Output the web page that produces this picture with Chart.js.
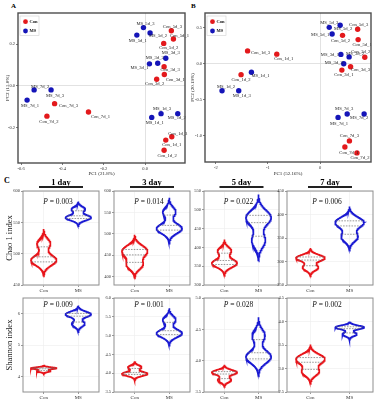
<!DOCTYPE html>
<html>
<head>
<meta charset="utf-8">
<script src="https://cdn.jsdelivr.net/npm/chart.js@4/dist/chart.umd.min.js"></script>
<style>
  html, body { margin: 0; padding: 0; background: #fff; }
  #fig { position: relative; width: 375px; height: 400px; overflow: hidden; }
  #fig canvas { position: absolute; }
  .tag { position: absolute; font: bold 7px "Liberation Serif"; color: #000; }
</style>
</head>
<body>
<div id="fig">
  <div class="tag" style="left:11px;top:2px">A</div>
  <div class="tag" style="left:191px;top:2px">B</div>
  <div class="tag" style="left:4px;top:176px;font-size:8px">C</div>
</div>
<script>
// ---- data ----
const groups = ['Con', 'MS'];
const days = ['1 day', '3 day', '5 day', '7 day'];

// PCA sample names (3 replicates x 4 days)
const conNames = ['Con_1d_1', 'Con_1d_2', 'Con_1d_3', 'Con_3d_1', 'Con_3d_2', 'Con_3d_3',
                  'Con_5d_1', 'Con_5d_2', 'Con_5d_3', 'Con_7d_1', 'Con_7d_2', 'Con_7d_3'];
const msNames  = ['MS_1d_1', 'MS_1d_2', 'MS_1d_3', 'MS_3d_1', 'MS_3d_2', 'MS_3d_3',
                  'MS_5d_1', 'MS_5d_2', 'MS_5d_3', 'MS_7d_1', 'MS_7d_2', 'MS_7d_3'];

// panel A: PC1 (21.8%) / PC2 (15.0%)
const aConX = [0.100, 0.092, 0.129, 0.093, 0.056, 0.092, 0.137, 0.090, 0.127, -0.274, -0.475, -0.438];
const aConY = [-0.260, -0.309, -0.244, 0.055, 0.032, 0.092, 0.225, 0.204, 0.265, -0.125, -0.145, -0.085];
const aMsX  = [0.032, 0.158, 0.077, 0.021, 0.061, 0.100, -0.040, 0.024, -0.008, -0.571, -0.537, -0.455];
const aMsY  = [-0.151, -0.133, -0.133, 0.106, 0.109, 0.133, 0.244, 0.254, 0.280, -0.068, -0.019, -0.019];
const aXTicks = ['-0.6', '-0.4', '-0.2', '0.0'];
const aYTicks = ['-0.2', '0.0', '0.2'];

// panel B: PC1 (52.16%) / PC2 (20.19%)
const bConX = [-0.83, -1.515, -1.39, 0.419, 0.859, 0.586, 0.731, 0.432, 0.722, 0.477, 0.709, 0.564];
const bConY = [0.135, -0.149, 0.18, -0.086, 0.093, -0.039, 0.337, 0.396, 0.48, -1.152, -1.235, -1.068];
const bMsX  = [-1.316, -1.88, -1.56, 0.40, 0.558, 0.455, 0.232, 0.386, 0.177, 0.346, 0.846, 0.521];
const bMsY  = [-0.116, -0.372, -0.372, 0.132, 0.097, 0.003, 0.414, 0.536, 0.507, -0.742, -0.696, -0.696];
const bXTicks = ['-2', '-1', '0'];
const bYTicks = ['-1.0', '-0.5', '0.0', '0.5'];

// alpha diversity, three replicates per group and day
const chaoCon = [[487, 492, 516], [427, 452, 466], [354, 362, 391], [287, 305, 310]];
const chaoMS  = [[556, 559, 571], [510, 514, 551], [418, 472, 486], [352, 378, 388]];
const chaoP = ['0.003', '0.014', '0.022', '0.006'];
const chaoTicks = [['450', '500', '550', '600'], ['400', '450', '500', '550', '600'],
                   ['300', '350', '400', '450', '500', '550'], ['250', '300', '350', '400', '450']];

const shanCon = [[4.165, 4.25, 4.27], [3.966, 4.0, 4.16], [3.69, 3.80, 3.826], [2.93, 3.15, 3.25]];
const shanMS  = [[5.675, 5.96, 6.0], [5.04, 5.08, 5.42], [4.04, 4.08, 4.40], [3.73, 3.87, 3.88]];
const shanP = ['0.009', '0.001', '0.028', '0.002'];
const shanTicks = [['4', '5', '6'], ['3.5', '4.0', '4.5', '5.0', '5.5', '6.0'],
                   ['3.5', '4.0', '4.5', '5.0'], ['2.5', '3.0', '3.5', '4.0', '4.5']];

// ---- style / layout ----
const RED = '#e3191c';
const BLUE = '#1515b8';
const VRED = '#e8141a';
const VBLUE = '#1a1ad2';
const SERIF = '"Liberation Serif", "DejaVu Serif", serif';

const chaoLim = [[450, 600], [380, 600], [300, 550], [250, 450]];
const shanLim = [[3.5, 6.5], [3.5, 6.0], [3.5, 5.0], [2.5, 4.5]];
const colX = [[23, 99], [114, 190], [204, 279], [287, 373]];
const rowY = [[191, 285], [298, 392]];

// label nudges in px (ggrepel-like placement)
const aConNudge = [[6, 5], [3, 5], [6, -3], [11, 5], [-2, 5], [6, 3], [6, -3], [5, 4], [1, -4], [12, 5], [2, 6], [14, 2]];
const aMsNudge  = [[3, 5], [-1, 4], [1, -5], [-10, 4], [-3, -5], [5, -5], [1, 6], [8, 3], [2, -4], [3, 6], [6, -3], [4, 6]];
const bConNudge = [[7, 5], [0, 5], [13, 2], [2, 5], [-4, -5], [10, 3], [4, 5], [-2, 5], [1, -5], [4, 6], [3, 5], [0, -5]];
const bMsNudge  = [[9, 4], [4, -4], [3, 5], [-11, 0], [6, -3], [-10, -1], [-12, 1], [3, 4], [0, -5], [1, 6], [-5, 4], [-3, -5]];

Chart.defaults.font.family = SERIF;
Chart.defaults.color = '#333';

const fig = document.getElementById('fig');
function mount(left, top, w, h) {
  const c = document.createElement('canvas');
  c.width = w; c.height = h;
  c.style.left = left + 'px'; c.style.top = top + 'px';
  c.style.width = w + 'px'; c.style.height = h + 'px';
  fig.appendChild(c);
  return c;
}

function fixedTicks(labels) {
  const vals = labels.map(parseFloat);
  return {
    after: s => { s.ticks = vals.map(v => ({ value: v })); },
    cb: v => labels[vals.indexOf(v)]
  };
}

const frame = (color, width) => ({
  id: 'frame',
  afterDraw(chart) {
    const { ctx, chartArea: a } = chart;
    ctx.save();
    ctx.strokeStyle = color; ctx.lineWidth = width;
    ctx.strokeRect(a.left, a.top, a.right - a.left, a.bottom - a.top);
    ctx.restore();
  }
});

const legendBox = {
  id: 'legendBox',
  afterDraw(chart) {
    const { ctx, chartArea: a } = chart;
    ctx.save();
    ctx.fillStyle = '#fff';
    ctx.strokeStyle = '#d0d0d0'; ctx.lineWidth = 0.6;
    ctx.fillRect(a.left + 2, a.top + 3, 19, 19.5);
    ctx.strokeRect(a.left + 2, a.top + 3, 19, 19.5);
    [[groups[0], RED, 8.7], [groups[1], BLUE, 18]].forEach(([t, c, dy]) => {
      ctx.fillStyle = c;
      ctx.beginPath(); ctx.arc(a.left + 7.5, a.top + dy, 2.4, 0, Math.PI * 2); ctx.fill();
      ctx.fillStyle = '#111';
      ctx.font = 'bold 4.5px ' + SERIF;
      ctx.textBaseline = 'middle';
      ctx.fillText(t, a.left + 11.5, a.top + dy);
    });
    ctx.restore();
  }
};

const pointNames = {
  id: 'pointNames',
  afterDatasetsDraw(chart) {
    const { ctx } = chart;
    ctx.save();
    ctx.font = '4.6px ' + SERIF;
    ctx.fillStyle = '#222';
    ctx.textAlign = 'center';
    ctx.textBaseline = 'middle';
    chart.data.datasets.forEach((ds, i) => {
      chart.getDatasetMeta(i).data.forEach((pt, j) => {
        const [dx, dy] = ds.nudge[j];
        ctx.fillText(ds.names[j], pt.x + dx, pt.y + dy);
      });
    });
    ctx.restore();
  }
};

function pcaChart(canvas, o) {
  const xt = fixedTicks(o.xTicks), yt = fixedTicks(o.yTicks);
  const zeroGrid = c => (c.tick && c.tick.value === 0) ? '#d6d6d6' : 'rgba(0,0,0,0)';
  new Chart(canvas, {
    type: 'scatter',
    data: {
      datasets: [
        { data: o.conX.map((x, i) => ({ x, y: o.conY[i] })), names: conNames, nudge: o.conNudge,
          backgroundColor: RED, borderWidth: 0, pointRadius: 2.7 },
        { data: o.msX.map((x, i) => ({ x, y: o.msY[i] })), names: msNames, nudge: o.msNudge,
          backgroundColor: BLUE, borderWidth: 0, pointRadius: 2.7 }
      ]
    },
    options: {
      responsive: false, animation: false, events: [],
      layout: { padding: { top: o.padTop, right: o.padRight, left: 0, bottom: 0 } },
      plugins: { legend: { display: false }, tooltip: { enabled: false } },
      scales: {
        x: {
          type: 'linear', min: o.xLim[0], max: o.xLim[1],
          afterBuildTicks: xt.after,
          afterFit: s => { s.height = o.axisH; },
          ticks: { callback: xt.cb, font: { size: 4.5 }, color: '#333', padding: 1, maxRotation: 0, autoSkip: false },
          grid: { color: zeroGrid, lineWidth: 0.7, tickColor: '#444', tickLength: 2 },
          border: { display: false },
          title: { display: true, text: o.xTitle, font: { size: 5 }, color: '#222', padding: { top: 0, bottom: 9 } }
        },
        y: {
          type: 'linear', min: o.yLim[0], max: o.yLim[1],
          afterBuildTicks: yt.after,
          afterFit: s => { s.width = o.axisW; },
          ticks: { callback: yt.cb, font: { size: 4.5 }, color: '#333', padding: 1 },
          grid: { color: zeroGrid, lineWidth: 0.7, tickColor: '#444', tickLength: 2 },
          border: { display: false },
          title: { display: true, text: o.yTitle, font: { size: 5 }, color: '#222', padding: { top: 5, bottom: 0 } }
        }
      }
    },
    plugins: [pointNames, legendBox, frame('#4d4d4d', 1.4)]
  });
}

pcaChart(mount(0, 0, 190, 186), {
  conX: aConX, conY: aConY, msX: aMsX, msY: aMsY, conNudge: aConNudge, msNudge: aMsNudge,
  xLim: [-0.615, 0.193], yLim: [-0.37, 0.35], xTicks: aXTicks, yTicks: aYTicks,
  xTitle: 'PC1 (21.8%)', yTitle: 'PC2 (15.0%)', padTop: 13, padRight: 5, axisW: 18, axisH: 23
});
pcaChart(mount(185, 0, 190, 186), {
  conX: bConX, conY: bConY, msX: bMsX, msY: bMsY, conNudge: bConNudge, msNudge: bMsNudge,
  xLim: [-2.207, 0.978], yLim: [-1.361, 0.706], xTicks: bXTicks, yTicks: bYTicks,
  xTitle: 'PC1 (52.16%)', yTitle: 'PC2 (20.19%)', padTop: 13, padRight: 1, axisW: 20, axisH: 24
});

// ---- violins: gaussian KDE, nrd0 bandwidth, tails cut at 3 bw ----
function bwNrd0(v) {
  const s = [...v].sort((a, b) => a - b), n = s.length;
  const m = s.reduce((a, b) => a + b, 0) / n;
  const sd = Math.sqrt(s.reduce((a, b) => a + (b - m) ** 2, 0) / (n - 1));
  const q = p => { const h = (n - 1) * p, lo = Math.floor(h); return s[lo] + (h - lo) * (s[Math.min(lo + 1, n - 1)] - s[lo]); };
  const lo = Math.min(sd, (q(0.75) - q(0.25)) / 1.34);
  return 0.9 * lo * Math.pow(n, -0.2);
}

const HALF_W = 0.37;
const lineSet = { showLine: true, pointRadius: 0, pointHoverRadius: 0, fill: false, tension: 0, backgroundColor: 'rgba(0,0,0,0)' };

function violinSets(vals, pos, color) {
  const bw = bwNrd0(vals);
  const lo = Math.min(...vals) - 3 * bw, hi = Math.max(...vals) + 3 * bw;
  const n = 256, dens = [];
  for (let i = 0; i < n; i++) {
    const y = lo + (hi - lo) * i / (n - 1);
    let d = 0;
    vals.forEach(v => { d += Math.exp(-0.5 * ((y - v) / bw) ** 2); });
    dens.push([y, d]);
  }
  const dmax = Math.max(...dens.map(p => p[1]));
  const w = d => d / dmax * HALF_W;
  const outline = dens.map(([y, d]) => ({ x: pos + w(d), y }))
    .concat(dens.slice().reverse().map(([y, d]) => ({ x: pos - w(d), y })));
  outline.push(outline[0]);

  const cum = [0];
  for (let i = 1; i < n; i++) cum.push(cum[i - 1] + (dens[i][1] + dens[i - 1][1]) / 2 * (dens[i][0] - dens[i - 1][0]));
  const total = cum[n - 1];
  const quant = [0.25, 0.5, 0.75].map(p => {
    const t = p * total;
    let i = 1;
    while (cum[i] < t) i++;
    const f = (t - cum[i - 1]) / (cum[i] - cum[i - 1]);
    const y = dens[i - 1][0] + f * (dens[i][0] - dens[i - 1][0]);
    const d = dens[i - 1][1] + f * (dens[i][1] - dens[i - 1][1]);
    return Object.assign({
      data: [{ x: pos - w(d), y }, { x: pos + w(d), y }],
      borderColor: '#6f6f6f', borderWidth: 0.7, borderDash: [1.6, 1.2]
    }, lineSet);
  });
  return [...quant, Object.assign({ data: outline, borderColor: color, borderWidth: 1.7 }, lineSet)];
}

const panelText = (title, p, pOffset) => ({
  id: 'panelText',
  afterDraw(chart) {
    const { ctx, chartArea: a } = chart;
    const cx = (a.left + a.right) / 2;
    ctx.save();
    if (title) {
      ctx.font = 'bold 8.5px ' + SERIF;
      ctx.fillStyle = '#000';
      ctx.textAlign = 'center';
      ctx.textBaseline = 'alphabetic';
      ctx.fillText(title, cx, a.top - 6.5);
      ctx.fillStyle = '#222';
      ctx.fillRect(cx - 22, a.top - 5, 44, 2);
    }
    ctx.font = 'italic 7.5px ' + SERIF;
    const pw = ctx.measureText('P').width;
    ctx.font = '7.5px ' + SERIF;
    const rest = ' = ' + p;
    const rw = ctx.measureText(rest).width;
    const x0 = cx - 3 - (pw + rw) / 2;
    ctx.fillStyle = '#111';
    ctx.textAlign = 'left';
    ctx.textBaseline = 'middle';
    ctx.font = 'italic 7.5px ' + SERIF;
    ctx.fillText('P', x0, a.top + pOffset);
    ctx.font = '7.5px ' + SERIF;
    ctx.fillText(rest, x0 + pw, a.top + pOffset);
    ctx.restore();
  }
});

function violinChart(row, col) {
  const chao = row === 0;
  const con = chao ? chaoCon[col] : shanCon[col];
  const ms = chao ? chaoMS[col] : shanMS[col];
  const lim = chao ? chaoLim[col] : shanLim[col];
  const yt = fixedTicks(chao ? chaoTicks[col] : shanTicks[col]);
  const [x0, x1] = colX[col], [y0, y1] = rowY[row];
  const axisW = col === 0 ? 23 : 11;
  const padTop = chao ? 16 : 4;
  const axisH = chao ? 9 : 8;
  const canvas = mount(x0 - axisW, y0 - padTop, axisW + (x1 - x0) + 1, padTop + (y1 - y0) + axisH);
  const grid = { color: '#ececec', lineWidth: 0.6, tickColor: '#555', tickLength: 2 };
  new Chart(canvas, {
    type: 'scatter',
    data: { datasets: [...violinSets(con, 1, VRED), ...violinSets(ms, 2, VBLUE)] },
    options: {
      responsive: false, animation: false, events: [],
      layout: { padding: { top: padTop, right: 1, left: 0, bottom: 0 } },
      plugins: { legend: { display: false }, tooltip: { enabled: false } },
      scales: {
        x: {
          type: 'linear', min: 0.4, max: 2.6,
          afterBuildTicks: s => { s.ticks = [{ value: 1 }, { value: 2 }]; },
          afterFit: s => { s.height = axisH; },
          ticks: { callback: v => groups[v - 1], font: { size: 5 }, color: '#333', padding: 1, maxRotation: 0, autoSkip: false },
          grid, border: { display: false }
        },
        y: {
          type: 'linear', min: lim[0], max: lim[1],
          afterBuildTicks: yt.after,
          afterFit: s => { s.width = axisW; },
          ticks: { callback: yt.cb, font: { size: 4.5 }, color: '#333', padding: 1 },
          grid, border: { display: false },
          title: {
            display: col === 0, text: chao ? 'Chao 1 index' : 'Shannon index',
            font: { size: 8.5 }, color: '#222', padding: { top: 5, bottom: 0 }
          }
        }
      }
    },
    plugins: [frame('#8f8f8f', 1), panelText(chao ? days[col] : null, chao ? chaoP[col] : shanP[col], chao ? 11 : 7)]
  });
}

for (let r = 0; r < 2; r++) for (let c = 0; c < 4; c++) violinChart(r, c);
</script>
</body>
</html>
